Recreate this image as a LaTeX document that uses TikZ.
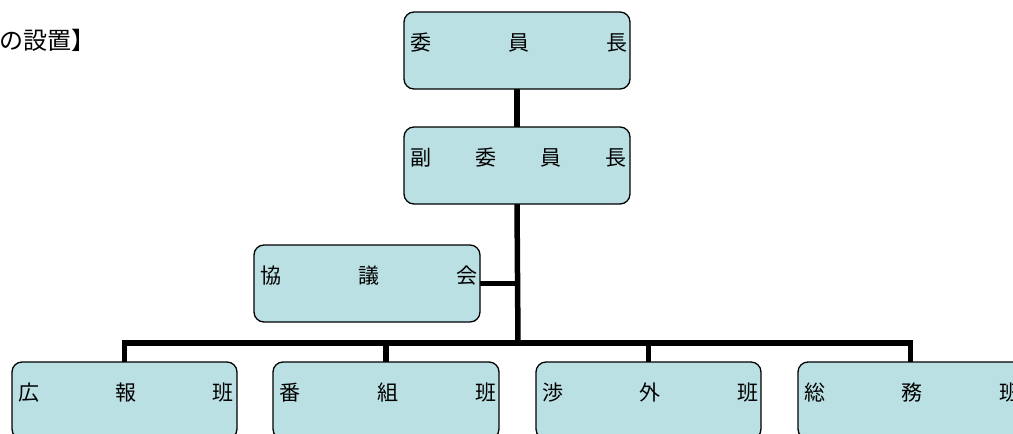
\documentclass[tikz,border=0pt]{standalone}
\usepackage{fontspec}
\newfontfamily\jp{Noto Sans CJK JP}
\usetikzlibrary{backgrounds}
\definecolor{boxfill}{RGB}{187,224,227}
\tikzset{
  orgbox/.style={draw=black, line width=1.3pt, fill=boxfill, rounded corners=10pt,
    inner sep=0pt, outer sep=0pt, anchor=north west},
  conn/.style={line width=5.5pt, line join=miter, draw=black},
}
\newcommand{\boxtext}[2]{\parbox[t][77pt][t]{#1}{\jp\fontsize{21pt}{26pt}\selectfont\rule{0pt}{38pt}\hspace*{6pt}#2\hspace*{3pt}}}
\begin{document}
\begin{tikzpicture}[x=1pt,y=-1pt]
\clip (0,0) rectangle (1013,434);
\useasboundingbox (0,0) rectangle (1013,434);
\node[anchor=west, inner sep=0pt] (title) at (-1,40) {\jp\fontsize{24pt}{28pt}\selectfont の設置】};
\node[orgbox] (chair) at (404,12) {\boxtext{226pt}{委\hfill 員\hfill 長}};
\node[orgbox] (vice) at (404,127) {\boxtext{226pt}{副\hfill 委\hfill 員\hfill 長}};
\node[orgbox] (kyo) at (254,245) {\boxtext{226pt}{協\hfill 議\hfill 会}};
\node[orgbox] (ko) at (12,362) {\boxtext{225pt}{広\hfill 報\hfill 班}};
\node[orgbox] (ban) at (273,362) {\boxtext{226pt}{番\hfill 組\hfill 班}};
\node[orgbox] (sho) at (536,362) {\boxtext{225pt}{渉\hfill 外\hfill 班}};
\node[orgbox] (so) at (798,362) {\boxtext{225pt}{総\hfill 務\hfill 班}};
\coordinate (hub) at (518,343);
\begin{scope}[on background layer]
\draw[conn] (chair.south) -- (vice.north);
\draw[conn] (vice.south) -- (hub);
\draw[conn] (kyo.east) -- (kyo.east -| hub);
\draw[conn] (ko.north) |- (hub) -| (so.north);
\draw[conn] (ban.north) -- (ban.north |- hub);
\draw[conn] (sho.north) -- (sho.north |- hub);
\end{scope}
\end{tikzpicture}
\end{document}
